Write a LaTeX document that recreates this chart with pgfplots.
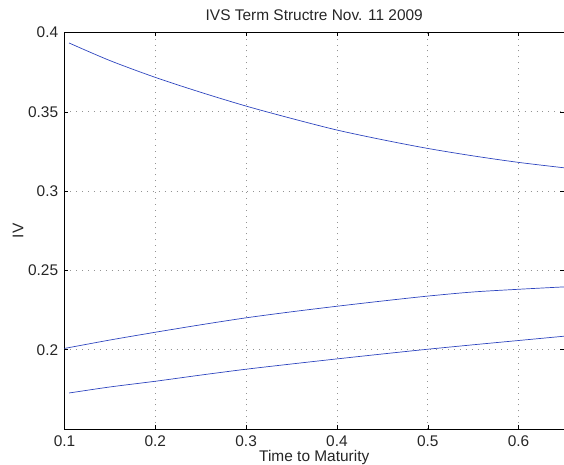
\documentclass[border=0pt]{standalone}
\usepackage{fontspec}
\setmainfont{Liberation Sans}
\usepackage{pgfplots}
\pgfplotsset{compat=1.18}
\definecolor{mblue}{rgb}{0.18,0.27,0.75}
\definecolor{txt}{gray}{0.15}
\begin{document}
\fontsize{15.5}{18}\selectfont
\begin{tikzpicture}
\begin{axis}[
  at={(0,0)}, anchor=south west,
  scale only axis, width=499.5bp, height=396.5bp,
  xmin=0.1, xmax=0.65, ymin=0.15, ymax=0.4,
  xtick={0.1,0.2,0.3,0.4,0.5,0.6},
  ytick={0.2,0.25,0.3,0.35,0.4},
  xticklabels={0.1,0.2,0.3,0.4,0.5,0.6},
  yticklabels={0.2,0.25,0.3,0.35,0.4},
  tick align=inside, major tick length=4bp,
  tick style={black, line width=0.5bp},
  axis line style={black, line width=0.7bp},
  grid=major, major grid style={dash pattern=on 0.9bp off 5bp, gray!85, line width=0.7bp},
  ticklabel style={font=\fontsize{15.5}{18}\selectfont, text=txt},
  xticklabel style={yshift=-1bp},
  yticklabel style={xshift=-1bp},
  title={IVS Term Structre Nov. 11 2009},
  every axis title/.style={at={(axis description cs:0.5,1.044)}, anchor=center, font=\fontsize{15.5}{18}\selectfont, text=txt},
  xlabel={Time to Maturity},
  every axis x label/.style={at={(axis description cs:0.5,-0.071)}, anchor=center, font=\fontsize{15.5}{18}\selectfont, text=txt},
  ylabel={IV},
  every axis y label/.style={at={(axis description cs:-0.093,0.5)}, rotate=90, anchor=center, font=\fontsize{15.5}{18}\selectfont, text=txt},
  clip=true,
]
\addplot[mblue, line width=0.7bp, smooth] coordinates {
(0.105,0.3934) (0.15,0.3823) (0.2,0.3717) (0.25,0.3623) (0.3,0.3536) (0.35,0.3458) (0.4,0.3385) (0.45,0.3324) (0.5,0.3269) (0.55,0.3222) (0.6,0.3181) (0.65,0.3147)};
\addplot[mblue, line width=0.7bp, smooth] coordinates {
(0.1,0.2008) (0.15,0.2061) (0.2,0.2110) (0.25,0.2157) (0.3,0.2201) (0.35,0.2239) (0.4,0.2274) (0.45,0.2307) (0.5,0.2338) (0.55,0.2364) (0.6,0.2381) (0.65,0.2396)};
\addplot[mblue, line width=0.7bp, smooth] coordinates {
(0.105,0.1727) (0.15,0.1765) (0.2,0.1801) (0.25,0.1840) (0.3,0.1877) (0.35,0.1910) (0.4,0.1942) (0.45,0.1973) (0.5,0.2003) (0.55,0.2031) (0.6,0.2058) (0.65,0.2085)};
\end{axis}
\pgfresetboundingbox
\path[use as bounding box] (-64.5bp,-36bp) rectangle (499.5bp,429bp);
\end{tikzpicture}
\end{document}
